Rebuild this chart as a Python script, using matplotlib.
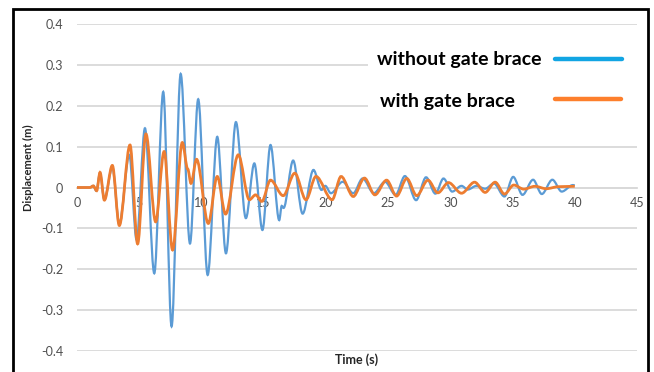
import matplotlib
matplotlib.use("Agg")
import matplotlib.pyplot as plt
from matplotlib.path import Path
from matplotlib.patches import PathPatch, Rectangle

plt.rcParams["font.family"] = ["Lato", "DejaVu Sans"]

# peaks / troughs (time s, displacement m)
t_without = [0, 1.0, 1.31, 1.55, 1.85, 2.2, 2.84, 3.4, 4.2, 4.79, 5.46, 6.21, 6.93,
             7.6, 8.33, 9.08, 9.74, 10.5, 11.27, 11.97, 12.77, 13.57, 14.25, 14.9,
             15.55, 16.25, 16.45, 16.6, 17.37, 18.13, 19.0, 19.65, 19.95, 20.4, 21.35,
             22.2, 22.95, 23.85, 24.75, 25.6, 26.35, 27.25, 28.05, 28.8, 29.45, 30.15,
             30.9, 31.4, 32.1, 32.8, 33.5, 34.35, 35.05, 35.8, 36.65, 37.35, 38.2,
             38.95, 39.85, 40.0]
d_without = [0, 0, 0.004, -0.008, 0.035, -0.03, 0.05, -0.09, 0.08, -0.128, 0.145, -0.21, 0.234,
             -0.34, 0.278, -0.137, 0.216, -0.214, 0.124, -0.161, 0.16, -0.075, 0.059, -0.104,
             0.104, -0.08, -0.045, -0.05, 0.066, -0.064, 0.043, -0.006, 0.004, -0.014, 0.014,
             -0.014, 0.022, -0.014, 0.014, -0.018, 0.028, -0.031, 0.025, -0.015, 0.022, -0.01,
             0.004, -0.005, 0.004, -0.003, 0.01, -0.022, 0.026, -0.018, 0.019, -0.016, 0.019,
             -0.01, 0.006, 0.005]

t_with = [0, 1.05, 1.31, 1.58, 1.85, 2.2, 2.84, 3.4, 4.26, 4.87, 5.54, 6.32, 7.0, 7.68,
          8.46, 8.9, 9.16, 9.61, 10.55, 11.27, 11.94, 12.96, 13.85, 14.35, 14.85, 15.55,
          16.57, 17.5, 18.4, 19.2, 20.5, 21.22, 22.2, 23.1, 23.94, 24.88, 25.68, 26.5,
          27.3, 28.2, 29.0, 29.85, 30.9, 31.95, 32.8, 33.6, 34.35, 35.1, 35.9, 36.8,
          37.7, 38.7, 40.0]
d_with = [0, 0, 0.004, -0.008, 0.037, -0.031, 0.054, -0.093, 0.104, -0.138, 0.131, -0.084, 0.088, -0.153,
          0.11, 0.045, 0.01, 0.069, -0.088, 0.027, -0.065, 0.08, -0.03, -0.018, -0.034, 0.018,
          -0.02, 0.035, -0.03, 0.027, -0.03, 0.027, -0.022, 0.023, -0.018, 0.018, -0.021, 0.022,
          -0.02, 0.018, -0.013, 0.012, -0.014, 0.013, -0.012, 0.013, -0.016, 0.006, -0.004, 0.003,
          -0.003, 0.002, 0.003]

x_ticks = [0, 5, 10, 15, 20, 25, 30, 35, 40, 45]
y_ticks = [0.4, 0.3, 0.2, 0.1, 0, -0.1, -0.2, -0.3, -0.4]
y_labels = ["0.4", "0.3", "0.2", "0.1", "0", "-0.1", "-0.2", "-0.3", "-0.4"]
series_names = ["without gate brace", "with gate brace"]


def smooth_path(ts, ys):
    # smoothed line like excel: flat tangent at each peak
    verts = [(ts[0], ys[0])]
    codes = [Path.MOVETO]
    for i in range(1, len(ts)):
        dt = (ts[i] - ts[i - 1]) / 3
        verts += [(ts[i - 1] + dt, ys[i - 1]), (ts[i] - dt, ys[i]), (ts[i], ys[i])]
        codes += [Path.CURVE4] * 3
    return Path(verts, codes)


fig = plt.figure(figsize=(6.54, 3.72), dpi=100)
ax = fig.add_axes([77 / 654, 1 - 351 / 372, 560 / 654, 327 / 372])

ax.set_xlim(0, 45)
ax.set_ylim(-0.4, 0.4)
ax.set_yticks(y_ticks)
ax.set_yticklabels(y_labels)
ax.set_xticks(x_ticks)
ax.yaxis.grid(True, color="#d9d9d9", lw=1.3)
ax.set_axisbelow(True)
for s in ["top", "right", "left"]:
    ax.spines[s].set_visible(False)
ax.spines["bottom"].set_position(("data", 0))
ax.spines["bottom"].set_color("#d9d9d9")
ax.spines["bottom"].set_linewidth(1.3)
ax.tick_params(axis="both", length=0, labelsize=9, labelcolor="#505050")
ax.tick_params(axis="x", pad=7)
ax.tick_params(axis="y", pad=10)

ax.add_patch(PathPatch(smooth_path(t_without, d_without), fill=False,
                       edgecolor="#5b9bd5", lw=1.6, zorder=4))
ax.add_patch(PathPatch(smooth_path(t_with, d_with), fill=False,
                       edgecolor="#ed7d31", lw=2.0, zorder=5))

# white legend box hiding the grid
ax.add_patch(Rectangle((23.4, 0.118), 22, 0.268, facecolor="white",
                       edgecolor="none", zorder=3, clip_on=False))
fig.text(377 / 654, 1 - 60 / 372, series_names[0], fontsize=14, fontweight="bold",
         va="center", ha="left")
fig.text(380 / 654, 1 - 102 / 372, series_names[1], fontsize=14, fontweight="bold",
         va="center", ha="left")
fig.add_artist(plt.Line2D([555 / 654, 622 / 654], [1 - 59 / 372, 1 - 59 / 372],
                          color="#12a5e3", lw=3.2, solid_capstyle="round"))
fig.add_artist(plt.Line2D([555 / 654, 621 / 654], [1 - 99 / 372, 1 - 99 / 372],
                          color="#fd7f2c", lw=3.2, solid_capstyle="round"))

fig.text(28 / 654, 1 - 168 / 372, "Displacement (m)", rotation=90, fontsize=8,
         fontweight="bold", ha="center", va="center", color="#262626")
fig.text(357 / 654, 1 - 360 / 372, "Time (s)", fontsize=9, fontweight="bold",
         ha="center", va="center", color="#262626")

# black frame around the picture
fig.add_artist(Rectangle((13 / 654, -0.05), 635 / 654, 1.05 - 9 / 372, fill=False,
                         edgecolor="black", lw=2, transform=fig.transFigure))

fig.savefig("out.png", dpi=100, facecolor="white")
